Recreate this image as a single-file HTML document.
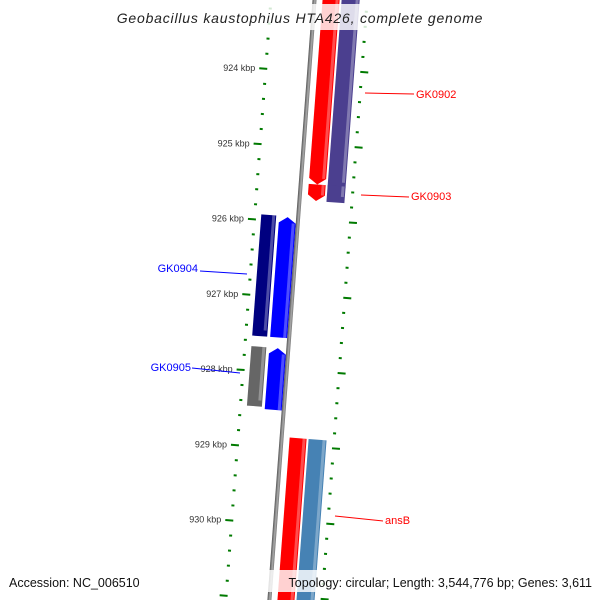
<!DOCTYPE html>
<html><head><meta charset="utf-8"><style>
html,body{margin:0;padding:0;background:#fff;width:600px;height:600px;overflow:hidden}
svg{display:block;overflow:hidden}
text{font-family:"Liberation Sans","DejaVu Sans",sans-serif}
</style></head><body>
<svg id="map" width="600" height="600" viewBox="0 0 600 600">
<defs>
<linearGradient id="gBack" x1="0" x2="1"><stop offset="0" stop-color="#555"/><stop offset="0.6" stop-color="#aaa"/><stop offset="1" stop-color="#777"/></linearGradient>
<clipPath id="clipAll"><rect x="0" y="0" width="600" height="600"/></clipPath>
</defs>
<g clip-path="url(#clipAll)">
<g id="rot" transform="rotate(4.3 300 300)"></g>
<g id="labels"></g>
</g>
</svg>
<script>
const kbpTicks = [924, 925, 926, 927, 928, 929, 930];
const tickLabels = ["924 kbp","925 kbp","926 kbp","927 kbp","928 kbp","929 kbp","930 kbp"];
const geneNames = ["GK0902","GK0902b","GK0903","GK0903b","GK0904","GK0904b","GK0905","GK0905b","ansB","ansBb"];
const geneStart = [922.9, 922.9, 925.53, 925.53, 925.98, 925.99, 927.73, 927.73, 928.9, 928.9];
const geneEnd   = [925.53, 925.56, 925.75, 925.75, 927.59, 927.59, 928.52, 928.55, 931.2, 931.2];
const geneTrack = [1, 2, 1, 2, -2, -1, -2, -1, 1, 2];
const geneStrand= [-1, 0, -1, 0, 0, 1, 0, 1, 0, 0];
const geneColor = ["#ff0000","#4b3f8f","#ff0000","#4b3f8f","#000080","#0000ff","#666666","#0000ff","#ff0000","#4682b4"];
const NS="http://www.w3.org/2000/svg";
const rot=document.getElementById('rot'), lab=document.getElementById('labels');
function y(k){return 68+(k-924)*75.5;}
const backX=292;
const trackX={"-2":[255,270],"-1":[273,290],"1":[300,317],"2":[319,337]};
function mk(tag,attrs,parent){const e=document.createElementNS(NS,tag);for(const a in attrs)e.setAttribute(a,attrs[a]);parent.appendChild(e);return e;}
let bb=mk('rect',{x:backX-2,y:-40,width:4,height:680,fill:'url(#gBack)'},rot);


for(let k=922.6;k<=931.6;k+=0.2){
  const kk=Math.round(k*10)/10;
  const major=Math.abs(kk-Math.round(kk))<0.01;
  let t=mk('rect',{x:major?242:247,y:y(kk)+3,width:major?8:3,height:2,fill:'#007a00'},rot);
  
  
  let t2=mk('rect',{x:343,y:y(kk)-1,width:major?8:3,height:2,fill:'#007a00'},rot);
  
  
}
for(let i=0;i<geneNames.length;i++){
  const [x0,x1]=trackX[geneTrack[i]];
  const y0=y(geneStart[i]), y1=y(geneEnd[i]);
  const xm=(x0+x1)/2, a=6;
  let d;
  if(geneStrand[i]==1) d=`M${x0},${y1}L${x0},${y0+a}L${xm},${y0}L${x1},${y0+a}L${x1},${y1}Z`;
  else if(geneStrand[i]==-1) d=`M${x0},${y0}L${x1},${y0}L${x1},${y1-a}L${xm},${y1}L${x0},${y1-a}Z`;
  else d=`M${x0},${y0}L${x1},${y0}L${x1},${y1}L${x0},${y1}Z`;
  let p=mk('path',{d:d,fill:geneColor[i]},rot);
  
  
  let h=mk('rect',{x:x1-4,y:y0+(geneStrand[i]==1?a:0),width:3,height:Math.max(0,y1-y0-a),fill:'#fff',opacity:0.3},rot);
  
  
}
const th=4.3*Math.PI/180;
function scr(fx,fy){const dx=fx-300,dy=fy-300;return [300+dx*Math.cos(th)-dy*Math.sin(th),300+dx*Math.sin(th)+dy*Math.cos(th)];}
for(let i=0;i<kbpTicks.length;i++){
  const p=scr(238,y(kbpTicks[i])+4);
  let t=mk('text',{x:p[0],y:p[1]+3,'font-size':9,fill:'#333','text-anchor':'end'},lab);
  t.textContent=tickLabels[i];
  
  
}
const callouts=[["GK0902",365,93,414,94,416,98,"red","start"],["GK0903",361,195,409,197,411,200,"red","start"],
["GK0904",200,271,247,274,198,272,"blue","end"],["GK0905",192,368,240,373,191,371,"blue","end"],["ansB",335,516,383,521,385,524,"red","start"]];
for(const c of callouts){
  let l=mk('line',{x1:c[1],y1:c[2],x2:c[3],y2:c[4],stroke:c[7],'stroke-width':1},lab);
  
  
  let t=mk('text',{x:c[5],y:c[6],'font-size':11,fill:c[7],'text-anchor':c[8]},lab);
  t.textContent=c[0];
  
  
}
let tb=mk('rect',{x:110,y:4,width:380,height:26,fill:'#fff',opacity:0.82},lab);


let tt=mk('text',{x:300,y:23,'font-size':14,'font-style':'italic',fill:'#222','text-anchor':'middle','letter-spacing':'0.8'},lab);
tt.textContent='Geobacillus kaustophilus HTA426, complete genome';


let fb=mk('rect',{x:258,y:570,width:340,height:22,fill:'#fff',opacity:0.82},lab);


let f1=mk('text',{x:9,y:587,'font-size':12.5,fill:'#111'},lab);
f1.textContent='Accession: NC_006510';


let f2=mk('text',{x:592,y:587,'font-size':12.5,fill:'#111','text-anchor':'end'},lab);
f2.textContent='Topology: circular; Length: 3,544,776 bp; Genes: 3,611';


</script>
</body></html>
